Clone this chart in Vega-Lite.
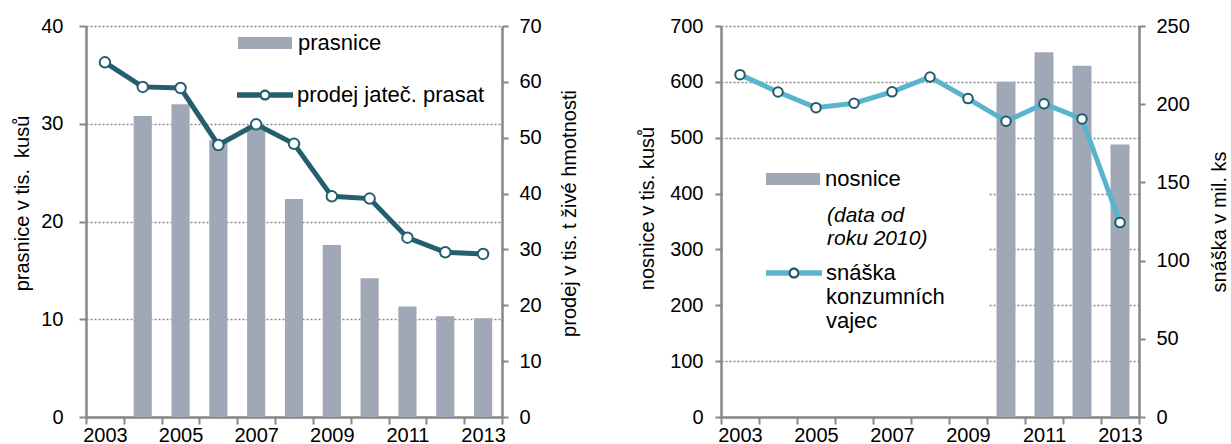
{
  "$schema": "https://vega.github.io/schema/vega-lite/v6.json",
  "background": "white",
  "padding": {"left": 12, "top": 14, "right": 0, "bottom": 0},
  "spacing": 57,
  "config": {
    "view": {"stroke": null},
    "font": "Liberation Sans",
    "axis": {
      "labelFont": "Liberation Sans", "labelFontSize": 20, "labelColor": "#000000",
      "titleFont": "Liberation Sans", "titleFontSize": 20, "titleFontWeight": "normal", "titleColor": "#000000",
      "domainColor": "#878787", "domainWidth": 2.5, "tickColor": "#878787", "tickWidth": 2, "tickSize": 7,
      "gridColor": "#8a8a8a", "gridDash": [2, 2], "gridWidth": 1.3
    },
    "legend": {"labelFont": "Liberation Sans", "labelFontSize": 22, "labelColor": "#000000", "padding": 0, "labelLimit": 0}
  },
  "resolve": {
    "scale": {"fill": "independent", "color": "independent", "shape": "independent", "opacity": "independent", "x": "independent", "y": "independent"},
    "legend": {"fill": "independent", "color": "independent", "shape": "independent", "opacity": "independent"}
  },
  "hconcat": [
    {
      "width": 416, "height": 391,
      "data": {"values": [
        {"year": 2003, "prasnice": null, "prodej": 63.5},
        {"year": 2004, "prasnice": 30.8, "prodej": 59.1},
        {"year": 2005, "prasnice": 32.0, "prodej": 58.9},
        {"year": 2006, "prasnice": 28.3, "prodej": 48.7},
        {"year": 2007, "prasnice": 29.8, "prodej": 52.4},
        {"year": 2008, "prasnice": 22.3, "prodej": 48.9},
        {"year": 2009, "prasnice": 17.6, "prodej": 39.5},
        {"year": 2010, "prasnice": 14.2, "prodej": 39.1},
        {"year": 2011, "prasnice": 11.3, "prodej": 32.1},
        {"year": 2012, "prasnice": 10.3, "prodej": 29.5},
        {"year": 2013, "prasnice": 10.1, "prodej": 29.2}
      ]},
      "encoding": {
        "x": {"field": "year", "type": "ordinal", "scale": {"paddingInner": 0, "paddingOuter": 0},
          "axis": {"title": null, "labelAngle": 0, "tickBand": "extent", "grid": false, "labelPadding": 1,
            "labelExpr": "datum.value % 2 == 1 ? datum.label : ''"}}
      },
      "layer": [
        {
          "mark": {"type": "bar", "width": {"band": 0.48}},
          "encoding": {
            "y": {"field": "prasnice", "type": "quantitative", "scale": {"domain": [0, 40]},
              "axis": {"orient": "left", "title": "prasnice v tis.\u00a0 kusů", "values": [0, 10, 20, 30, 40], "grid": true,
                "labelPadding": 16, "titlePadding": 8, "titleY": 177}},
            "fill": {"datum": "prasnice", "type": "nominal", "scale": {"range": ["#a0a7b7"]},
              "legend": {"orient": "none", "legendX": 150, "legendY": -12, "padding": 2, "title": null,
                "symbolType": "M-1,-0.22H1V0.22H-1Z", "symbolSize": 2916, "symbolStrokeWidth": 0, "labelOffset": 6}}
          }
        },
        {
          "encoding": {
            "y": {"field": "prodej", "type": "quantitative", "scale": {"domain": [0, 70]},
              "axis": {"orient": "right", "title": "prodej v tis. t živé hmotnosti", "values": [0, 10, 20, 30, 40, 50, 60, 70],
                "grid": false, "tickSize": 6, "labelPadding": 11, "titlePadding": 18, "titleAngle": 270, "titleBaseline": "top", "titleY": 187}}
          },
          "layer": [
            {"mark": {"type": "line", "strokeWidth": 5, "color": "#235f6e"}, "encoding": {}},
            {"mark": {"type": "point", "filled": true, "fill": "white", "stroke": "#235f6e", "strokeWidth": 2, "size": 110, "opacity": 1}, "encoding": {}},
            {
              "data": {"values": []},
              "mark": {"type": "point", "filled": true, "opacity": 1, "size": 10},
              "encoding": {
                "color": {"datum": "prodej jateč. prasat", "type": "nominal", "scale": {"range": ["#235f6e"]},
                  "legend": {"orient": "none", "legendX": 151, "legendY": 41, "title": null,
                    "symbolType": "M-1,-0.1H-0.19V0.1H-1Z M0.19,-0.1H1V0.1H0.19Z M0.2,0C0.2,0.1105 0.1105,0.2 0,0.2C-0.1105,0.2 -0.2,0.1105 -0.2,0C-0.2,-0.1105 -0.1105,-0.2 0,-0.2C0.1105,-0.2 0.2,-0.1105 0.2,0Z M0.12,0C0.12,-0.0663 0.0663,-0.12 0,-0.12C-0.0663,-0.12 -0.12,-0.0663 -0.12,0C-0.12,0.0663 -0.0663,0.12 0,0.12C0.0663,0.12 0.12,0.0663 0.12,0Z",
                    "symbolSize": 3136, "symbolStrokeWidth": 0, "symbolOpacity": 1, "labelOffset": 4}}
              }
            }
          ]
        }
      ],
      "resolve": {"scale": {"y": "independent"}}
    },
    {
      "width": 418, "height": 391,
      "data": {"values": [
        {"year": 2003, "nosnice": null, "snaska": 218.9},
        {"year": 2004, "nosnice": null, "snaska": 207.8},
        {"year": 2005, "nosnice": null, "snaska": 197.8},
        {"year": 2006, "nosnice": null, "snaska": 200.6},
        {"year": 2007, "nosnice": null, "snaska": 207.9},
        {"year": 2008, "nosnice": null, "snaska": 217.4},
        {"year": 2009, "nosnice": null, "snaska": 203.6},
        {"year": 2010, "nosnice": 600, "snaska": 189.1},
        {"year": 2011, "nosnice": 653, "snaska": 200.3},
        {"year": 2012, "nosnice": 629, "snaska": 190.6},
        {"year": 2013, "nosnice": 488, "snaska": 124.3}
      ]},
      "encoding": {
        "x": {"field": "year", "type": "ordinal", "scale": {"paddingInner": 0, "paddingOuter": 0},
          "axis": {"title": null, "labelAngle": 0, "tickBand": "extent", "grid": false, "labelPadding": 1,
            "labelExpr": "datum.value % 2 == 1 ? datum.label : ''"}}
      },
      "layer": [
        {
          "encoding": {
            "y": {"field": "nosnice", "type": "quantitative", "scale": {"domain": [0, 700]},
              "axis": {"orient": "left", "title": "nosnice v tis. kusů", "values": [0, 100, 200, 300, 400, 500, 600, 700], "grid": true,
                "tickSize": 6, "labelPadding": 12, "titlePadding": 12, "titleY": 182}}
          },
          "layer": [
            {
              "mark": {"type": "bar", "width": {"band": 0.5}},
              "encoding": {
                "fill": {"datum": "nosnice", "type": "nominal", "scale": {"range": ["#a0a7b7"]},
                  "legend": {"orient": "none", "legendX": 45, "legendY": 126, "title": null, "zindex": 2,
                    "symbolType": "M-1,-0.22H1V0.22H-1Z", "symbolSize": 2916, "symbolStrokeWidth": 0, "labelOffset": 5}}
              }
            },
            {
              "data": {"values": []},
              "mark": {"type": "point", "filled": true, "opacity": 0, "size": 10},
              "encoding": {
                "shape": {"datum": "(data od roku 2010)", "type": "nominal",
                  "legend": {"orient": "none", "legendX": 2, "legendY": 119, "title": null, "zindex": 1,
                    "padding": 60, "fillColor": "white", "strokeColor": null,
                    "labelExpr": "['(data od', 'roku 2010)']", "labelFontStyle": "italic", "labelFontSize": 21,
                    "symbolSize": 400, "symbolOpacity": 0, "symbolStrokeWidth": 0, "labelOffset": 23}}
              }
            }
          ]
        },
        {
          "encoding": {
            "y": {"field": "snaska", "type": "quantitative", "scale": {"domain": [0, 250]},
              "axis": {"orient": "right", "title": "snáška v mil. ks", "values": [0, 50, 100, 150, 200, 250],
                "grid": false, "tickSize": 6, "labelPadding": 11, "titlePadding": 20, "titleAngle": 270, "titleBaseline": "top"}}
          },
          "layer": [
            {"mark": {"type": "line", "strokeWidth": 5, "color": "#5bb4cd"}, "encoding": {}},
            {"mark": {"type": "point", "filled": true, "fill": "white", "stroke": "#1d5a6b", "strokeWidth": 2, "size": 90, "opacity": 1}, "encoding": {}},
            {
              "data": {"values": []},
              "mark": {"type": "point", "filled": true, "opacity": 1, "size": 10},
              "encoding": {
                "color": {"datum": "snáška konzumních vajec", "type": "nominal", "scale": {"range": ["#5bb4cd"]},
                  "legend": {"orient": "none", "legendX": 45, "legendY": 219, "title": null, "zindex": 2,
                    "labelExpr": "['snáška', 'konzumních', 'vajec']",
                    "symbolType": "M-1,-0.1H-0.19V0.1H-1Z M0.19,-0.1H1V0.1H0.19Z",
                    "symbolSize": 3136, "symbolStrokeWidth": 0, "symbolOpacity": 1, "labelOffset": 4}}
              }
            },
            {
              "data": {"values": []},
              "mark": {"type": "point", "filled": true, "color": "#1d5a6b", "size": 10},
              "encoding": {
                "opacity": {"datum": "kroužek", "type": "ordinal", "scale": {"range": [1]},
                  "legend": {"orient": "none", "legendX": 45, "legendY": 219, "title": null, "zindex": 3,
                    "labelExpr": "''",
                    "symbolType": "M0.2,0C0.2,0.1105 0.1105,0.2 0,0.2C-0.1105,0.2 -0.2,0.1105 -0.2,0C-0.2,-0.1105 -0.1105,-0.2 0,-0.2C0.1105,-0.2 0.2,-0.1105 0.2,0Z M0.12,0C0.12,-0.0663 0.0663,-0.12 0,-0.12C-0.0663,-0.12 -0.12,-0.0663 -0.12,0C-0.12,0.0663 -0.0663,0.12 0,0.12C0.0663,0.12 0.12,0.0663 0.12,0Z",
                    "symbolSize": 3136, "symbolStrokeWidth": 0, "symbolFillColor": "#1d5a6b", "symbolOpacity": 1, "labelOffset": 4}}
              }
            }
          ]
        }
      ],
      "resolve": {"scale": {"y": "independent"}}
    }
  ]
}
